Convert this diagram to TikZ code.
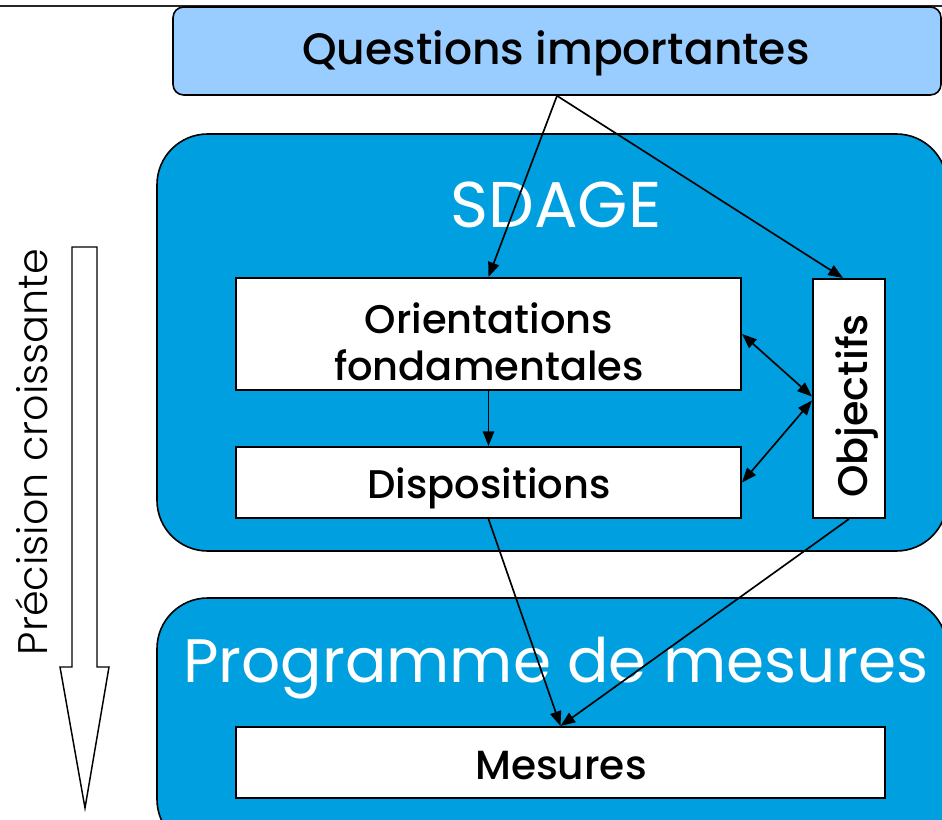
\documentclass[tikz,border=0pt]{standalone}
\usepackage{fontspec}
\setmainfont{Poppins}
\newfontfamily\popmed{Poppins Medium}
\newfontfamily\poplight{Poppins Light}
\usetikzlibrary{arrows.meta,calc}
\definecolor{lightblue}{HTML}{99CCFF}
\definecolor{sdageblue}{HTML}{009FE0}
\tikzset{
  whitebox/.style={draw=black, fill=white, line width=1.5pt, inner sep=0pt},
  bigbox/.style={draw=black, fill=sdageblue, line width=1.2pt, rounded corners=38pt, inner sep=0pt},
  conn/.style={line width=1.25pt, -{Triangle[length=11pt,width=8.5pt]}},
  dconn/.style={line width=1.25pt, {Triangle[length=11pt,width=8.5pt]}-{Triangle[length=11pt,width=8.5pt]}},
  lbl/.style={inner sep=0pt, anchor=base, text=black},
  wlbl/.style={inner sep=0pt, anchor=base, text=white},
}
\begin{document}
\begin{tikzpicture}[x=0.75pt,y=-0.75pt]
\useasboundingbox (0,0) rectangle (942,820);
\begin{scope}
\clip (0,0) rectangle (942,820);
% top rule
\draw[line width=1.6pt, black!85] (0,6) -- (942,6);
% question box
\node[draw=black, fill=lightblue, line width=1.2pt, rounded corners=8pt, inner sep=0pt,
      minimum width=768*0.75, minimum height=88*0.75] (quest) at (557,51) {};
\node[lbl, font=\popmed\fontsize{33}{40}\selectfont] (questt) at (556,65) {Questions importantes};
% SDAGE container
\node[bigbox, minimum width=790*0.75, minimum height=417*0.75] (sdage) at (552,342.5) {};
\node[wlbl, font=\fontsize{48.5}{56}\selectfont] (sdaget) at (556,228) {SDAGE};
% Programme container
\node[bigbox, minimum width=790*0.75, minimum height=252*0.75] (prog) at (552,724) {};
\node[wlbl, font=\fontsize{46}{54}\selectfont] (progt) at (556,682) {Programme de mesures};
% inner boxes
\node[whitebox, minimum width=505*0.75, minimum height=112*0.75] (orient) at (488.5,334) {};
\node[lbl, font=\popmed\fontsize{30}{36}\selectfont] (orientt) at (489,333) {Orientations};
\node[lbl, font=\popmed\fontsize{30}{36}\selectfont] (orientt2) at (489,380) {fondamentales};
\node[whitebox, minimum width=505*0.75, minimum height=71*0.75] (disp) at (488.5,482.5) {};
\node[lbl, font=\popmed\fontsize{30}{36}\selectfont] (dispt) at (489,498) {Dispositions};
\node[whitebox, minimum width=72*0.75, minimum height=239*0.75] (obj) at (849,398.5) {};
\node[lbl, font=\popmed\fontsize{31}{37}\selectfont, rotate=90] (objt) at (867,406) {Objectifs};
\node[whitebox, minimum width=649*0.75, minimum height=71*0.75] (mes) at (560.5,762.5) {};
\node[lbl, font=\popmed\fontsize{30.5}{36}\selectfont] (mest) at (561,779) {Mesures};
% big arrow
\draw[line width=1.1pt, fill=white] (72,247) -- (97,247) -- (97,667) -- (109,667) -- (85,808) -- (60,667) -- (72,667) -- cycle;
\node[lbl, font=\poplight\fontsize{31}{37}\selectfont, rotate=90] (prec) at (47,452) {Précision croissante};
% connectors
\draw[conn] (quest.south) -- (orient.north);
\draw[conn] (quest.south) -- ($(obj.north)+(-6,0)$);
\draw[conn] (orient.south) -- (disp.north);
\draw[conn] (disp.south) -- (mes.north);
\draw[conn] (obj.south) -- (mes.north);
\draw[dconn] (orient.east) -- ($(obj.west)+(0,-2)$);
\draw[dconn] (disp.east) -- ($(obj.west)+(0,2)$);
\end{scope}
\end{tikzpicture}
\end{document}
